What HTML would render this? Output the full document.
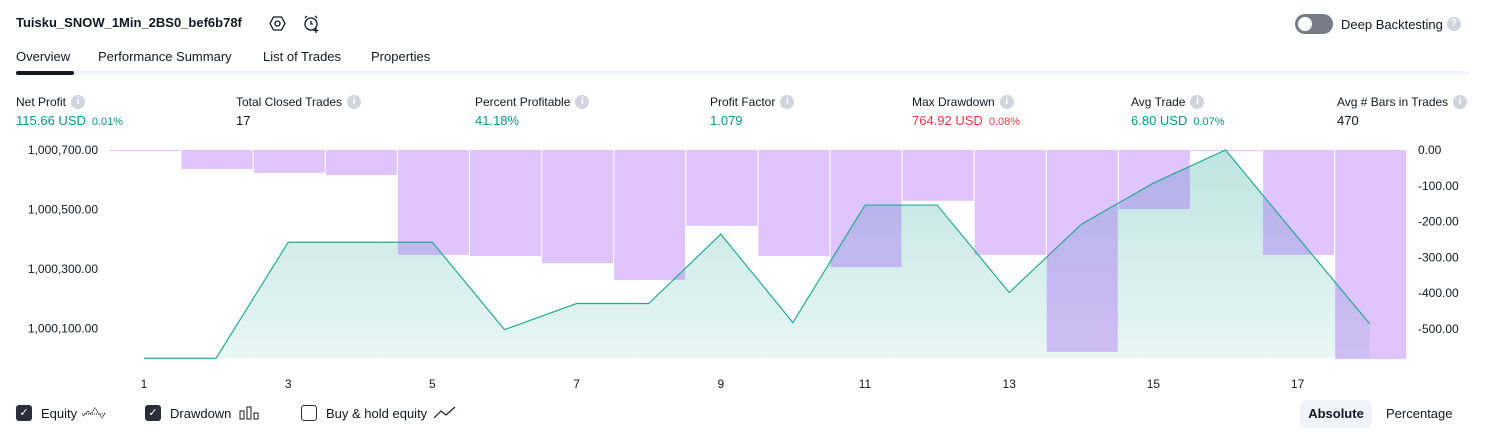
<!DOCTYPE html>
<html><head><meta charset="utf-8">
<style>
body{margin:0;width:1486px;height:438px;background:#fff;font-family:"Liberation Sans",sans-serif;color:#131722;position:relative;overflow:hidden}
.a{position:absolute;white-space:nowrap}
.lbl{font-size:12px;color:#131722;display:flex;align-items:center;height:15px}
.val{font-size:13px}
.g{color:#089981}.r{color:#f23645}
.pct{font-size:11px;margin-left:6px}
.info{display:inline-block;width:14px;height:14px;border-radius:7px;background:#d1d4dc;color:#fff;font-size:10px;text-align:center;line-height:14px;margin-left:5px;font-weight:bold}
.tab{font-size:13px;top:49px}
.cb{display:inline-block;width:16px;height:16px;border-radius:3px;box-sizing:border-box}
.leg{display:flex;align-items:center;height:18px;top:404px;font-size:13px}
</style></head><body>
<div class="a" style="left:16px;top:15px;font-size:13px;font-weight:bold">Tuisku_SNOW_1Min_2BS0_bef6b78f</div>
<svg class="a" style="left:269px;top:15px" width="17" height="17"><polygon points="4.5,2 12.5,2 16,8.5 12.5,15 4.5,15 1,8.5" fill="none" stroke="#131722" stroke-width="1.3"/><circle cx="8.5" cy="8.5" r="2.5" fill="none" stroke="#131722" stroke-width="1.3"/></svg>
<svg class="a" style="left:302px;top:14px" width="19" height="19"><circle cx="9" cy="10" r="6" fill="none" stroke="#131722" stroke-width="1.3"/><path d="M9 7v3h2M3 4l2-2M15 4l-2-2M14 14v5M11.5 16.5h5" stroke="#131722" stroke-width="1.3" fill="none"/></svg>
<div class="a" style="left:1295px;top:14px;width:38px;height:20px;border-radius:10px;background:#787b86"><div style="position:absolute;left:3px;top:3px;width:14px;height:14px;border-radius:7px;background:#fff"></div></div>
<div class="a" style="left:1341px;top:16px;font-size:13px;display:flex;align-items:center;height:16px">Deep Backtesting<span class="info" style="margin-left:4px">?</span></div>
<div class="a tab" style="left:16px">Overview</div>
<div class="a tab" style="left:98px">Performance Summary</div>
<div class="a tab" style="left:263px">List of Trades</div>
<div class="a tab" style="left:371px">Properties</div>
<div class="a" style="left:16px;top:71px;width:1454px;height:3px;background:#f0f3fa"></div>
<div class="a" style="left:16px;top:71px;width:58px;height:4px;border-radius:2px;background:#131722"></div>

<div class="a" style="left:16px;top:94px"><div class="lbl">Net Profit<span class="info">i</span></div><div class="val g" style="margin-top:4px">115.66 USD<span class="pct">0.01%</span></div></div>
<div class="a" style="left:236px;top:94px"><div class="lbl">Total Closed Trades<span class="info">i</span></div><div class="val" style="margin-top:4px">17</div></div>
<div class="a" style="left:475px;top:94px"><div class="lbl">Percent Profitable<span class="info">i</span></div><div class="val g" style="margin-top:4px">41.18%</div></div>
<div class="a" style="left:710px;top:94px"><div class="lbl">Profit Factor<span class="info">i</span></div><div class="val g" style="margin-top:4px">1.079</div></div>
<div class="a" style="left:912px;top:94px"><div class="lbl">Max Drawdown<span class="info">i</span></div><div class="val r" style="margin-top:4px">764.92 USD<span class="pct">0.08%</span></div></div>
<div class="a" style="left:1131px;top:94px"><div class="lbl">Avg Trade<span class="info">i</span></div><div class="val g" style="margin-top:4px">6.80 USD<span class="pct">0.07%</span></div></div>
<div class="a" style="left:1337px;top:94px"><div class="lbl">Avg # Bars in Trades<span class="info">i</span></div><div class="val" style="margin-top:4px;color:#131722">470</div></div>

<svg id="chart" class="a" style="left:0;top:0" width="1486" height="395"></svg>

<div class="a leg" style="left:16px"><span class="cb" style="background:#2a2e39;color:#fff;font-size:11px;text-align:center;line-height:16px">✓</span><span style="margin-left:9px">Equity</span>
<svg width="26" height="14" style="margin-left:4px"><path d="M1 8h24" stroke="#131722" stroke-dasharray="1 1"/><path d="M2 10l5-5 3 3 4-6 4 6 3 4 3-5" fill="none" stroke="#131722" stroke-dasharray="1.5 1"/></svg></div>
<div class="a leg" style="left:145px"><span class="cb" style="background:#2a2e39;color:#fff;font-size:11px;text-align:center;line-height:16px">✓</span><span style="margin-left:9px">Drawdown</span>
<svg width="22" height="14" style="margin-left:8px"><rect x="1" y="5" width="4" height="8" fill="none" stroke="#131722"/><rect x="8" y="1" width="4" height="12" fill="none" stroke="#131722"/><rect x="15" y="7" width="4" height="6" fill="none" stroke="#131722"/></svg></div>
<div class="a leg" style="left:301px"><span class="cb" style="border:1px solid #2a2e39"></span><span style="margin-left:9px">Buy &amp; hold equity</span>
<svg width="24" height="14" style="margin-left:6px"><path d="M1 12l7-7 5 4 9-8" fill="none" stroke="#131722" stroke-width="1.2"/></svg></div>
<div class="a" style="left:1300px;top:400px;width:72px;height:28px;border-radius:6px;background:#f0f3fa;font-size:13px;font-weight:bold;text-align:center;line-height:28px">Absolute</div>
<div class="a" style="left:1386px;top:406px;font-size:13px">Percentage</div>

<script>
const trades = [1,2,3,4,5,6,7,8,9,10,11,12,13,14,15,16,17,18];
const equity = [1000000,1000000,1000390,1000390,1000390,1000096,1000184,1000184,1000417,1000120,1000515,1000515,1000221,1000450,1000589,1000700,1000407,1000116];
const drawdown = [-3,-53,-64,-70,-293,-296,-316,-363,-212,-296,-327,-142,-293,-564,-165,-3,-293,-584];
const xTicks = [1,3,5,7,9,11,13,15,17];
const leftTicks = [1000700,1000500,1000300,1000100];
const leftTickLabels = ["1,000,700.00","1,000,500.00","1,000,300.00","1,000,100.00"];
const rightTicks = [0,-100,-200,-300,-400,-500];
const rightTickLabels = ["0.00","-100.00","-200.00","-300.00","-400.00","-500.00"];

const NS="http://www.w3.org/2000/svg";
const svg=document.getElementById('chart');
const x=i=>144+(i-1)*72.1;
const yL=v=>150+(1000700-v)*(178.5/600);
const yR=v=>150-v*0.358;
function mk(t,a){const e=document.createElementNS(NS,t);for(const k in a)e.setAttribute(k,a[k]);svg.appendChild(e);return e;}

const defs=mk('defs',{});
defs.innerHTML='<linearGradient id="eqg" x1="0" y1="0" x2="0" y2="1"><stop offset="0" stop-color="#26a69a" stop-opacity="0.3"/><stop offset="1" stop-color="#26a69a" stop-opacity="0.1"/></linearGradient>';

const base=358;
let d='M'+x(trades[0])+' '+base;
trades.forEach((t,i)=>{d+=' L'+x(t)+' '+yL(equity[i]);});
d+=' L'+x(trades[trades.length-1])+' '+base+' Z';
const area=mk('path',{d:d,fill:'url(#eqg)'});



trades.forEach((t,i)=>{
  const top=yR(0), h=Math.max(1,yR(drawdown[i])-top);
  const b=mk('rect',{x:x(t)-34.5,y:top,width:71,height:h,fill:'rgb(149,60,250)','fill-opacity':0.3});
  
  
});

let ld='';
trades.forEach((t,i)=>{ld+=(i?' L':'M')+x(t)+' '+yL(equity[i]);});
const line=mk('path',{d:ld,fill:'none',stroke:'#22ab94','stroke-width':1.2});



xTicks.forEach(t=>{
  const e=mk('text',{x:x(t),y:388,'text-anchor':'middle','font-size':12,fill:'#131722'});
  e.textContent=t;
  
  
});
leftTicks.forEach((v,i)=>{
  const e=mk('text',{x:98,y:yL(v)+4,'text-anchor':'end','font-size':12,fill:'#131722'});
  e.textContent=leftTickLabels[i];
  
  
});
rightTicks.forEach((v,i)=>{
  const e=mk('text',{x:1418,y:yR(v)+4,'font-size':12,fill:'#131722'});
  e.textContent=rightTickLabels[i];
  
  
});
</script>
</body></html>
